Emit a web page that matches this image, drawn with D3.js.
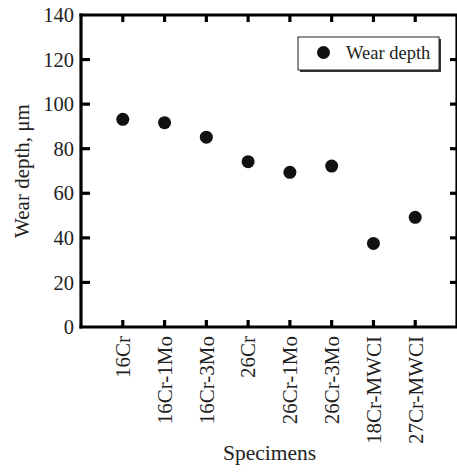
<!DOCTYPE html>
<html><head><meta charset="utf-8">
<script src="https://cdn.jsdelivr.net/npm/d3@7"></script>
<style>
body{margin:0;background:#fff}
svg{display:block}
svg text{font-family:"Liberation Serif","Times New Roman",Times,serif}
</style>
</head><body>
<script>
const categories = ["16Cr","16Cr-1Mo","16Cr-3Mo","26Cr","26Cr-1Mo","26Cr-3Mo","18Cr-MWCI","27Cr-MWCI"];
const wearDepth = [93.2, 91.7, 85.2, 74.2, 69.4, 72.2, 37.5, 49.2];
const yTicks = [0,20,40,60,80,100,120,140];
const seriesName = "Wear depth";

const W = 457, H = 473;
const L = 81, R = 457, T = 15, B = 327;
const svg = d3.select("body").append("svg").attr("width", W).attr("height", H);

const x = d3.scaleLinear().domain([0, categories.length + 1]).range([L, R]);
const y = d3.scaleLinear().domain([0, 140]).range([B, T]);

const ax = svg.append("g");
function seg(x1, y1, x2, y2) {
  ax.append("line").attr("x1", x1).attr("y1", y1).attr("x2", x2).attr("y2", y2)
    .attr("stroke", "#000").attr("stroke-width", 3.2).attr("stroke-linecap", "butt");
}
// frame lines
seg(L - 1.6, B, R, B);
seg(L - 1.6, T, R, T);
seg(L, T - 1.6, L, B + 1.6);
seg(R, T, R, B);

// x ticks (bottom & top, inward)
categories.forEach((c, i) => {
  const xi = x(i + 1);
  seg(xi, B, xi, B - 7);
  seg(xi, T, xi, T + 7);
});
// y ticks (left & right, inward)
yTicks.forEach(v => {
  if (v === 0 || v === 140) return;
  seg(L, y(v), L + 9, y(v));
  seg(R - 7, y(v), R, y(v));
});

// y tick labels
svg.append("g").selectAll("text").data(yTicks).join("text")
  .attr("x", 74).attr("y", d => y(d)).attr("dy", "0.35em")
  .attr("text-anchor", "end").attr("font-size", 20.5)
  .attr("fill", "#222").text(d => d);

// x tick labels rotated
svg.append("g").selectAll("text").data(categories).join("text")
  .attr("transform", (d, i) => `translate(${x(i + 1)},${B + 9}) rotate(-90)`)
  .attr("dy", "0.35em").attr("text-anchor", "end")
  .attr("font-size", 21).attr("fill", "#222").text(d => d);

// axis titles
svg.append("text").attr("transform", `translate(22,${(T + B) / 2}) rotate(-90)`)
  .attr("dy", "0.35em").attr("text-anchor", "middle")
  .attr("font-size", 21).attr("fill", "#222").text("Wear depth, μm");
svg.append("text").attr("x", (L + R) / 2 + 0.5).attr("y", 460)
  .attr("text-anchor", "middle")
  .attr("font-size", 21.5).attr("fill", "#222").text("Specimens");

// points
svg.append("g").selectAll("circle").data(wearDepth).join("circle")
  .attr("cx", (d, i) => x(i + 1)).attr("cy", d => y(d)).attr("r", 6.5).attr("fill", "#111");

// legend
const lg = svg.append("g");
lg.append("rect").attr("x", 300).attr("y", 39).attr("width", 141).attr("height", 33).attr("fill", "#333");
lg.append("rect").attr("x", 298).attr("y", 37).attr("width", 141).attr("height", 33)
  .attr("fill", "#fff").attr("stroke", "#222").attr("stroke-width", 1);
lg.append("circle").attr("cx", 323.5).attr("cy", 52.5).attr("r", 6.5).attr("fill", "#111");
lg.append("text").attr("x", 346).attr("y", 53).attr("dy", "0.35em")
  .attr("font-size", 18.5).attr("fill", "#222").text(seriesName);
</script>
</body></html>
